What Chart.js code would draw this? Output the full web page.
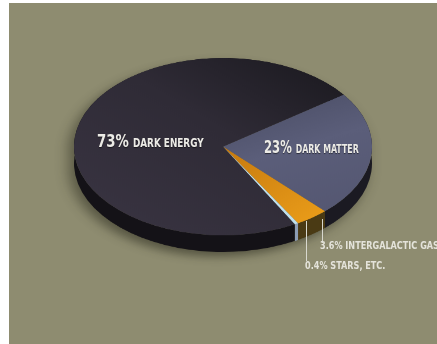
<!DOCTYPE html>
<html>
<head>
<meta charset="utf-8">
<script src="https://cdn.jsdelivr.net/npm/chart.js@4/dist/chart.umd.min.js"></script>
<style>
  html, body { margin: 0; padding: 0; background: #fff; }
  #stage {
    position: absolute; left: 9px; top: 3px; width: 428px; height: 341px;
    background: #8e8c70; overflow: hidden;
  }
  #pieBox {
    position: absolute; left: 65px; top: 55px; width: 298px; height: 328px;
    transform: scaleY(0.595); transform-origin: 0 0;
    filter: drop-shadow(-5px 8px 7px rgba(20, 20, 10, 0.45));
  }
  #pie { width: 298px; height: 328px; }
  .lbl, .note {
    position: absolute; white-space: nowrap;
    font-family: "DejaVu Sans Condensed", "DejaVu Sans", sans-serif;
    font-weight: bold; transform: scaleX(0.82); transform-origin: 0 0;
  }
  .lbl { color: #ecebe6; text-shadow: 0 1px 1px rgba(0,0,0,0.5); }
  .lbl .big { font-size: 18px; }
  .lbl .small { font-size: 12px; }
  .lbl.dm { transform: scaleX(0.76); }
  .lbl.dm .big { font-size: 17px; }
  .lbl.dm .small { font-size: 11.5px; }
  .note { color: #e4e3da; font-size: 11px; }
  .lead { position: absolute; width: 1px; background: #d8d8cf; }
</style>
</head>
<body>
<div id="stage">
  <div id="pieBox"><canvas id="pie" width="298" height="328"></canvas></div>
  <div class="lbl" style="left:88px; top:127px;"><span class="big">73%</span> <span class="small">DARK ENERGY</span></div>
  <div class="lbl dm" style="left:255px; top:134px;"><span class="big">23%</span> <span class="small">DARK MATTER</span></div>
  <div class="lead" style="left:313px; top:216px; height:24px;"></div>
  <div class="lead" style="left:297px; top:218px; height:40px;"></div>
  <div class="note" style="left:311px; top:236px;">3.6% INTERGALACTIC GAS</div>
  <div class="note" style="left:296px; top:256px;">0.4% STARS, ETC.</div>
</div>
<script>
  var categories = ['Dark Matter', 'Intergalactic Gas', 'Stars, etc.', 'Dark Energy'];
  var shares = [23, 3.6, 0.4, 73];
  var topColors = ['#5a5c78', '#ee9a14', '#bfe0ee', '#332e3a'];
  var sideColors = ['#1b1a22', '#4a3a14', '#8c9cb4', '#141217'];

  var THICK = 28;

  // draws the rim of the disc below the top face
  var rimPlugin = {
    id: 'rim',
    beforeDatasetsDraw: function(chart) {
      var ctx = chart.ctx;
      var meta = chart.getDatasetMeta(0);
      ctx.save();
      meta.data.forEach(function(arc, i) {
        var p = arc.getProps(['x', 'y', 'startAngle', 'endAngle', 'outerRadius'], true);
        ctx.beginPath();
        ctx.arc(p.x, p.y, p.outerRadius, p.startAngle, p.endAngle);
        ctx.arc(p.x, p.y + THICK, p.outerRadius, p.endAngle, p.startAngle, true);
        ctx.closePath();
        ctx.fillStyle = sideColors[i];
        ctx.fill();
      });
      ctx.restore();
    }
  };

  function sliceColor(c) {
    var i = c.dataIndex;
    var area = c.chart.chartArea;
    if (!area) return topColors[i];
    var g = c.chart.ctx;
    var grad;
    if (i === 3) {
      grad = g.createLinearGradient(area.left, area.bottom, area.right, area.top);
      grad.addColorStop(0, '#3a3543');
      grad.addColorStop(0.55, '#2f2b36');
      grad.addColorStop(1, '#17161b');
      return grad;
    }
    if (i === 0) {
      grad = g.createLinearGradient(area.left + area.width / 2, area.top, area.right, area.bottom);
      grad.addColorStop(0, '#3f4256');
      grad.addColorStop(0.5, '#5b5e7a');
      grad.addColorStop(1, '#52546e');
      return grad;
    }
    if (i === 1) {
      grad = g.createLinearGradient(area.left + area.width / 2, area.top + area.height / 2, area.right, area.bottom);
      grad.addColorStop(0, '#c67a10');
      grad.addColorStop(1, '#f6a81c');
      return grad;
    }
    return topColors[i];
  }

  new Chart(document.getElementById('pie'), {
    type: 'pie',
    data: {
      labels: categories,
      datasets: [{
        data: shares,
        backgroundColor: sliceColor,
        borderWidth: 0,
        hoverOffset: 0
      }]
    },
    options: {
      responsive: false,
      animation: false,
      rotation: 54,
      layout: { padding: { bottom: 30 } },
      plugins: { legend: { display: false }, tooltip: { enabled: false } },
      events: []
    },
    plugins: [rimPlugin]
  });
</script>
</body>
</html>
